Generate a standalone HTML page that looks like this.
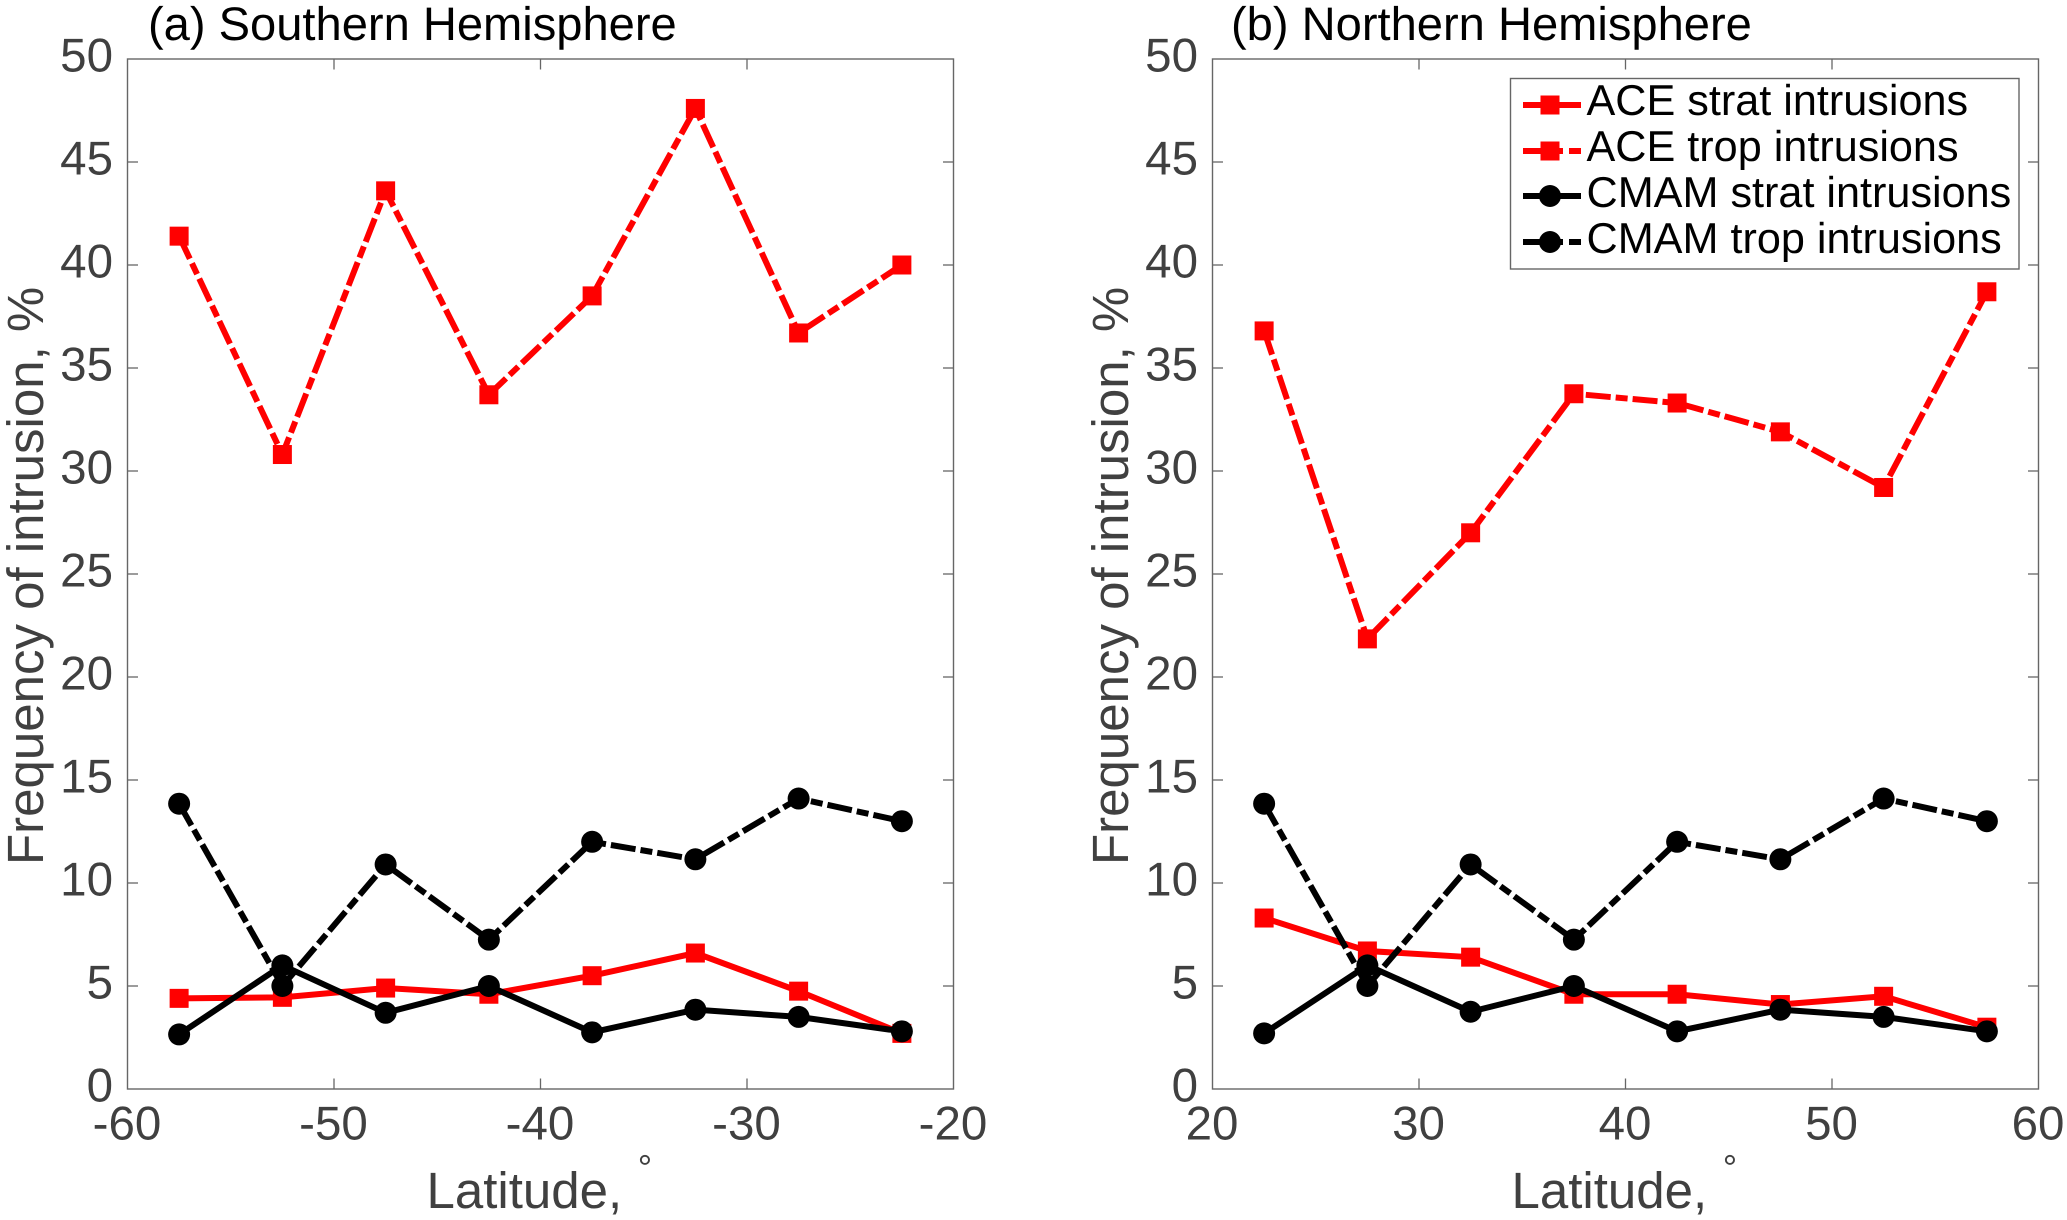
<!DOCTYPE html>
<html lang="en">
<head>
<meta charset="utf-8">
<title>Frequency of intrusion by latitude</title>
<style>
  html, body { margin: 0; padding: 0; background: #fff; }
  body { width: 2067px; height: 1220px; overflow: hidden; }
  svg { display: block; font-family: "Liberation Sans", Arial, sans-serif; text-rendering: geometricPrecision; }
</style>
</head>
<body>
<svg id="chart" xmlns="http://www.w3.org/2000/svg" width="2067" height="1220" viewBox="0 0 2067 1220">
  <rect width="2067" height="1220" fill="#fff"/>
  <g id="panel-a"></g>
  <g id="panel-b"></g>
  <g>
    <rect x="1510.5" y="78.5" width="508.5" height="190.5" fill="#fff" stroke="#666" stroke-width="1.4"/>
    <g>
      <line x1="1523" x2="1581" y1="105" y2="105" stroke="#f00" stroke-width="6"/>
      <rect x="1540.5" y="95.5" width="19" height="19" fill="#f00"/>
      <text x="1586.5" y="115" font-size="43.2" fill="#000">ACE strat intrusions</text>
    </g>
    <g>
      <line x1="1523" x2="1581" y1="151" y2="151" stroke="#f00" stroke-width="6" stroke-dasharray="40 6 12"/>
      <rect x="1540.5" y="141.5" width="19" height="19" fill="#f00"/>
      <text x="1586.5" y="161" font-size="43.2" fill="#000">ACE trop intrusions</text>
    </g>
    <g>
      <line x1="1523" x2="1581" y1="196" y2="196" stroke="#000" stroke-width="6"/>
      <circle cx="1550" cy="196" r="11" fill="#000"/>
      <text x="1586.5" y="207" font-size="43.2" fill="#000">CMAM strat intrusions</text>
    </g>
    <g>
      <line x1="1523" x2="1581" y1="242" y2="242" stroke="#000" stroke-width="6" stroke-dasharray="40 6 12"/>
      <circle cx="1550" cy="242" r="11" fill="#000"/>
      <text x="1586.5" y="253" font-size="43.2" fill="#000">CMAM trop intrusions</text>
    </g>
  </g>
</svg>
<script>
const yTickValues = [0, 5, 10, 15, 20, 25, 30, 35, 40, 45, 50];
const xTicksSouth = [-60, -50, -40, -30, -20];
const xTicksNorth = [20, 30, 40, 50, 60];
const latitudesSouth = [-57.5, -52.5, -47.5, -42.5, -37.5, -32.5, -27.5, -22.5];
const latitudesNorth = [22.5, 27.5, 32.5, 37.5, 42.5, 47.5, 52.5, 57.5];

const aceStratSouth = [4.4, 4.45, 4.9, 4.6, 5.5, 6.6, 4.75, 2.7];
const aceTropSouth = [41.4, 30.8, 43.6, 33.7, 38.5, 47.6, 36.7, 40.0];
const cmamStratSouth = [2.65, 6.0, 3.7, 5.0, 2.75, 3.85, 3.5, 2.8];
const cmamTropSouth = [13.85, 5.0, 10.9, 7.25, 12.0, 11.15, 14.1, 13.0];

const aceStratNorth = [8.3, 6.7, 6.4, 4.6, 4.6, 4.1, 4.5, 3.0];
const aceTropNorth = [36.8, 21.85, 27.0, 33.75, 33.3, 31.9, 29.2, 38.7];
const cmamStratNorth = [2.7, 6.0, 3.75, 5.0, 2.8, 3.85, 3.5, 2.8];
const cmamTropNorth = [13.85, 5.0, 10.9, 7.25, 12.0, 11.15, 14.1, 13.0];

const NS = 'http://www.w3.org/2000/svg';
const AXIS = '#666';
const TEXT = '#404040';
const TOP = 59, BOTTOM = 1089, WIDTH = 826;
const DASH = '25 5 12 5';

function make(parent, tag, props, content) {
  const el = document.createElementNS(NS, tag);
  for (const k in props) el.setAttribute(k, props[k]);
  if (content !== undefined) el.textContent = content;
  parent.appendChild(el);
  return el;
}

function drawPanel(root, left, titleX, titleText, xTicks, lats, aceStrat, aceTrop, cmamStrat, cmamTrop) {
  const right = left + WIDTH;
  const xMin = xTicks[0], xMax = xTicks[xTicks.length - 1];
  const xs = v => left + (v - xMin) / (xMax - xMin) * WIDTH;
  const ys = v => BOTTOM - v / 50 * (BOTTOM - TOP);

  const box = make(root, 'rect', { x: left, y: TOP, width: WIDTH, height: BOTTOM - TOP, fill: 'none', stroke: AXIS, 'stroke-width': 1.4 });
  
  

  yTickValues.forEach(v => {
    const y = ys(v);
    if (v > 0 && v < 50) {
      const t1 = make(root, 'line', { x1: left, x2: left + 10.5, y1: y, y2: y, stroke: AXIS, 'stroke-width': 1.3 });
      
      
      const t2 = make(root, 'line', { x1: right, x2: right - 10.5, y1: y, y2: y, stroke: AXIS, 'stroke-width': 1.3 });
      
      
    }
    const lab = make(root, 'text', { x: left - 14.5, y: y + 12.5, 'text-anchor': 'end', 'font-size': 47.5, fill: TEXT }, String(v));
    
    
  });

  xTicks.forEach((v, i) => {
    const x = xs(v);
    if (i > 0 && i < xTicks.length - 1) {
      const t1 = make(root, 'line', { x1: x, x2: x, y1: BOTTOM, y2: BOTTOM - 10.5, stroke: AXIS, 'stroke-width': 1.3 });
      
      
      const t2 = make(root, 'line', { x1: x, x2: x, y1: TOP, y2: TOP + 10.5, stroke: AXIS, 'stroke-width': 1.3 });
      
      
    }
    const lab = make(root, 'text', { x: x - 0.5, y: 1139.5, 'text-anchor': 'middle', 'font-size': 47.5, fill: TEXT }, String(v));
    
    
  });

  const series = [
    { name: 'ace-strat', values: aceStrat, color: '#f00', dash: null, marker: 'square' },
    { name: 'ace-trop', values: aceTrop, color: '#f00', dash: DASH, marker: 'square' },
    { name: 'cmam-strat', values: cmamStrat, color: '#000', dash: null, marker: 'circle' },
    { name: 'cmam-trop', values: cmamTrop, color: '#000', dash: DASH, marker: 'circle' }
  ];

  series.forEach(s => {
    const pts = s.values.map((v, i) => xs(lats[i]).toFixed(2) + ',' + ys(v).toFixed(2)).join(' ');
    const props = { points: pts, fill: 'none', stroke: s.color, 'stroke-width': 6, 'stroke-linejoin': 'miter' };
    if (s.dash) props['stroke-dasharray'] = s.dash;
    const line = make(root, 'polyline', props);
    
    
    s.values.forEach((v, i) => {
      const cx = xs(lats[i]), cy = ys(v);
      let m;
      if (s.marker === 'square') {
        m = make(root, 'rect', { x: cx - 9.5, y: cy - 9.5, width: 19, height: 19, fill: s.color });
      } else {
        m = make(root, 'circle', { cx: cx, cy: cy, r: 11, fill: s.color });
      }
      
      
    });
  });

  const title = make(root, 'text', { x: titleX, y: 40, 'font-size': 47.1, fill: '#000' }, titleText);
  
  

  const yTitleX = left - 84.5;
  const yTitle = make(root, 'text', { x: yTitleX, y: 865, 'font-size': 51, fill: TEXT, transform: 'rotate(-90 ' + yTitleX + ' 865)' }, 'Frequency of intrusion, %');
  
  

  const xTitle = make(root, 'text', { x: left + 299, y: 1208, 'font-size': 51, fill: TEXT }, 'Latitude,');
  
  

  const deg = make(root, 'text', { x: left + 517.5, y: 1180, 'text-anchor': 'middle', 'font-size': 36, fill: TEXT }, '°');
  
  
}

drawPanel(document.getElementById('panel-a'), 127.5, 148, '(a) Southern Hemisphere', xTicksSouth, latitudesSouth, aceStratSouth, aceTropSouth, cmamStratSouth, cmamTropSouth);
drawPanel(document.getElementById('panel-b'), 1212.5, 1231, '(b) Northern Hemisphere', xTicksNorth, latitudesNorth, aceStratNorth, aceTropNorth, cmamStratNorth, cmamTropNorth);
</script>
</body>
</html>
